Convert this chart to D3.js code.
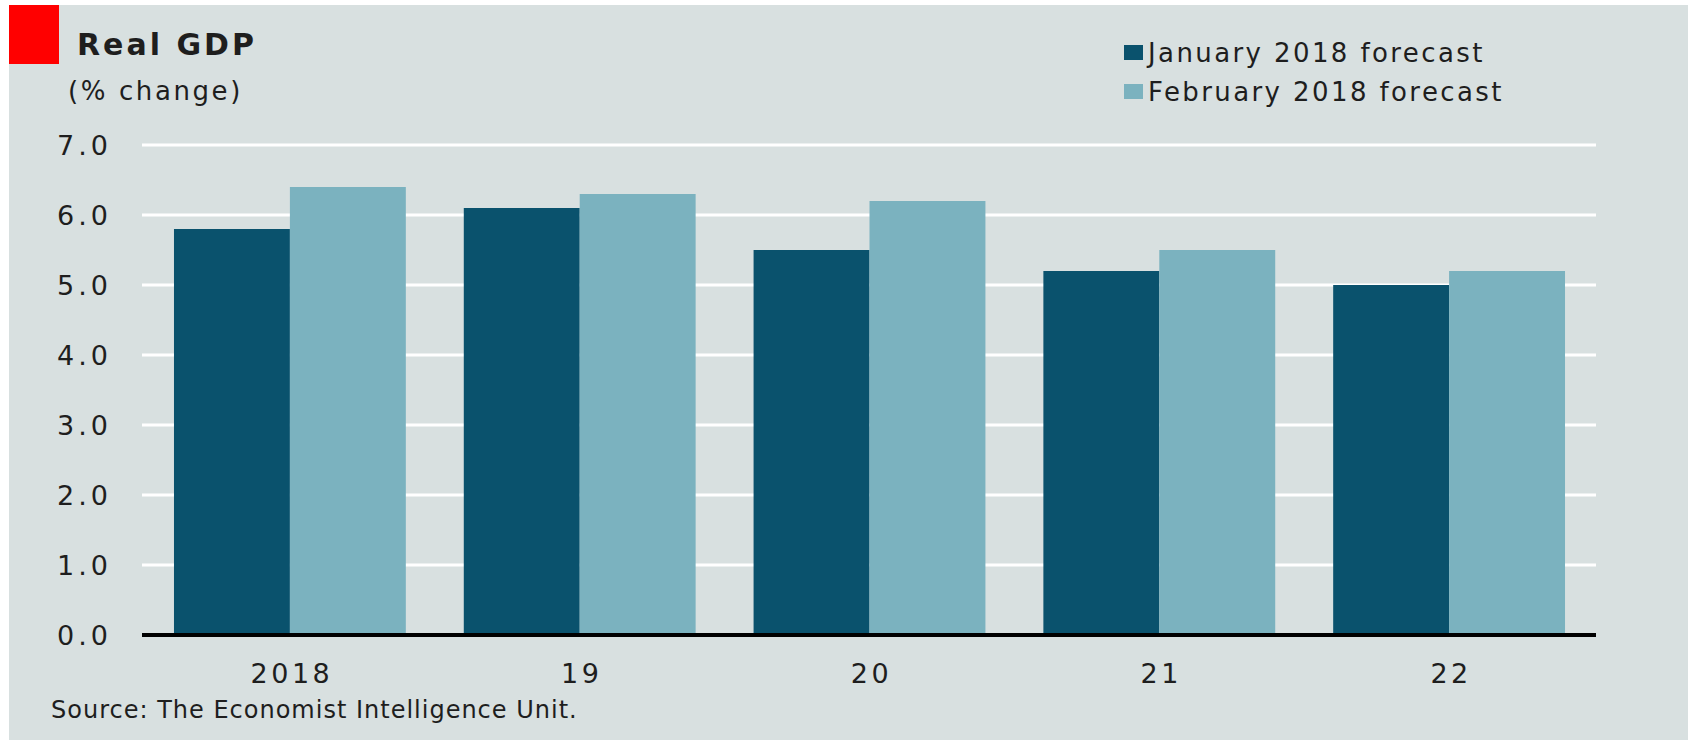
<!DOCTYPE html>
<html>
<head>
<meta charset="utf-8">
<script src="https://cdn.jsdelivr.net/npm/d3@7"></script>
<style>
	body { margin: 0; background: #ffffff; }
	text { font-family: "DejaVu Sans", Verdana, sans-serif; fill: #1e1e1e; }
</style>
</head>
<body>
<div id="chart"></div>
<script>
var years = ["2018", "19", "20", "21", "22"];
var seriesNames = ["January 2018 forecast", "February 2018 forecast"];
var janValues = [5.8, 6.1, 5.5, 5.2, 5.0];
var febValues = [6.4, 6.3, 6.2, 5.5, 5.2];
var yTicks = [0, 1, 2, 3, 4, 5, 6, 7];
var colors = ["#0a526d", "#7bb2bf"];

var width = 1693,
	height = 743;

var svg = d3.select("#chart").append("svg")
	.attr("width", width)
	.attr("height", height);

// panel background
svg.append("rect")
	.attr("x", 9).attr("y", 5)
	.attr("width", 1679).attr("height", 735)
	.attr("fill", "#d8e0e0");

svg.append("rect")
	.attr("x", 9).attr("y", 5)
	.attr("width", 50).attr("height", 59)
	.attr("fill", "#ff0000");

svg.append("text")
	.attr("x", 77).attr("y", 55)
	.attr("font-size", 30)
	.attr("font-weight", "bold")
	.attr("letter-spacing", 3)
	.text("Real GDP");

svg.append("text")
	.attr("x", 68).attr("y", 100)
	.attr("font-size", 26)
	.attr("letter-spacing", 2.6)
	.text("(% change)");

var xScale = d3.scaleBand()
	.domain(years)
	.range([145, 1594])
	.paddingInner(0.2)
	.paddingOuter(0.1);

var xSub = d3.scaleBand()
	.domain([0, 1])
	.range([0, xScale.bandwidth()]);

var yScale = d3.scaleLinear()
	.domain([0, 7])
	.range([635, 145]);

// gridlines
svg.append("g")
	.selectAll("line")
	.data(yTicks.filter(function(d){ return d > 0; }))
	.enter()
	.append("line")
	.attr("x1", 142)
	.attr("x2", 1596)
	.attr("y1", function(d){ return yScale(d); })
	.attr("y2", function(d){ return yScale(d); })
	.attr("stroke", "#ffffff")
	.attr("stroke-width", 3);

svg.append("g")
	.selectAll("text")
	.data(yTicks)
	.enter()
	.append("text")
	.attr("x", 112)
	.attr("y", function(d){ return yScale(d); })
	.attr("dy", "0.36em")
	.attr("text-anchor", "end")
	.attr("font-size", 27)
	.attr("letter-spacing", 4)
	.text(function(d){ return d.toFixed(1); });

var rows = years.map(function(y, i) {
	return {year: y, values: [janValues[i], febValues[i]]};
});

var groups = svg.append("g")
	.selectAll("g")
	.data(rows)
	.enter()
	.append("g")
	.attr("transform", function(d){ return "translate(" + xScale(d.year) + ",0)"; });

groups.selectAll("rect")
	.data(function(d){ return d.values; })
	.enter()
	.append("rect")
	.attr("x", function(d, i){ return xSub(i); })
	.attr("width", xSub.bandwidth())
	.attr("y", function(d){ return yScale(d); })
	.attr("height", function(d){ return yScale(0) - yScale(d); })
	.attr("fill", function(d, i){ return colors[i]; });

// baseline
svg.append("line")
	.attr("x1", 142).attr("x2", 1596)
	.attr("y1", yScale(0)).attr("y2", yScale(0))
	.attr("stroke", "#000000")
	.attr("stroke-width", 4);

svg.append("g")
	.selectAll("text")
	.data(years)
	.enter()
	.append("text")
	.attr("x", function(d){ return xScale(d) + xScale.bandwidth() / 2 + 2; })
	.attr("y", 683)
	.attr("text-anchor", "middle")
	.attr("font-size", 27)
	.attr("letter-spacing", 3.5)
	.text(function(d){ return d; });

svg.append("text")
	.attr("x", 51).attr("y", 718)
	.attr("font-size", 24)
	.attr("letter-spacing", 1)
	.text("Source: The Economist Intelligence Unit.");

var legend = svg.append("g")
	.selectAll("g")
	.data(seriesNames)
	.enter()
	.append("g")
	.attr("transform", function(d, i){ return "translate(1124," + (45 + i * 39) + ")"; });

legend.append("rect")
	.attr("width", 19)
	.attr("height", 15)
	.attr("fill", function(d, i){ return colors[i]; });

legend.append("text")
	.attr("x", 24)
	.attr("y", 17)
	.attr("font-size", 26)
	.attr("letter-spacing", 2.4)
	.text(function(d){ return d; });
</script>
</body>
</html>
